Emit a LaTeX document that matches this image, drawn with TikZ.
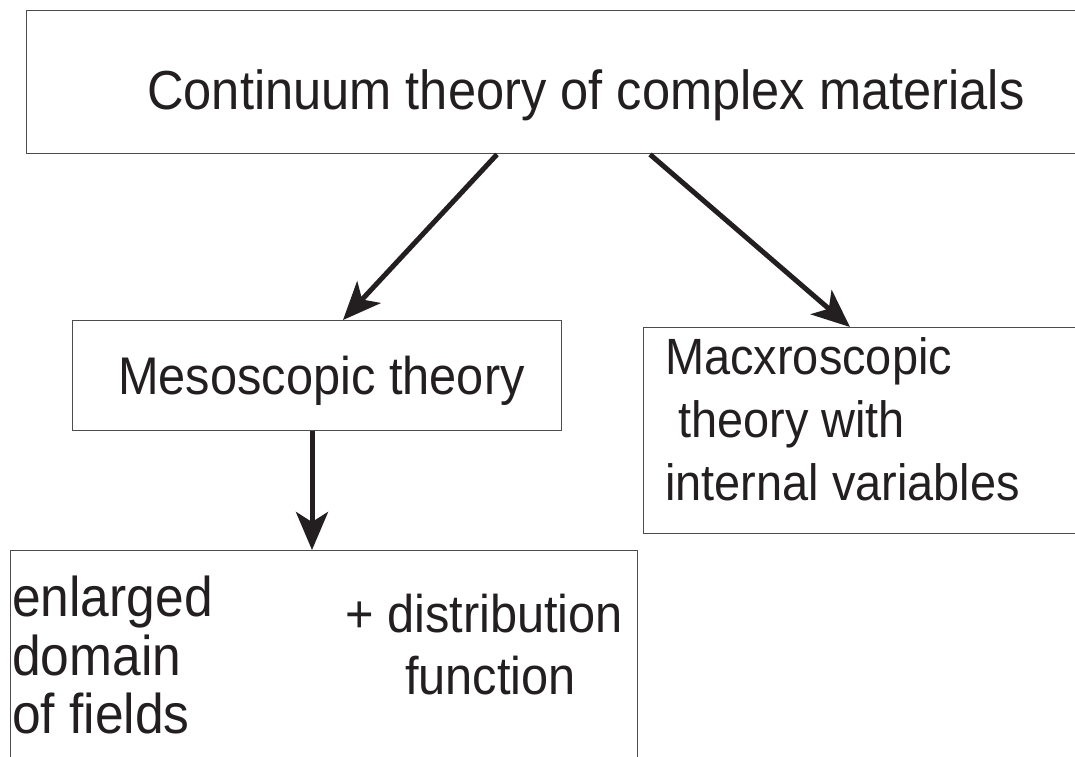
\documentclass[tikz,border=0pt]{standalone}
\usepackage{fontspec}
\setmainfont[FakeStretch=0.92]{Liberation Sans}
\usetikzlibrary{arrows.meta}
\definecolor{ink}{HTML}{231F20}
\begin{document}
\begin{tikzpicture}[x=1pt,y=-1pt,
  box/.style={draw=ink!80, line width=1.4pt, inner sep=0pt},
  arr/.style={draw=ink, line width=5pt, -{Stealth[length=38pt,width=32pt,inset=10pt]}},
  txt/.style={anchor=base west, inner sep=0pt, font=\fontsize{53}{60}\selectfont, text=ink}]
\useasboundingbox (0,0) rectangle (1075,756);
\clip (0,0) rectangle (1075,756);
\node[box, minimum width=1100pt, minimum height=143pt, anchor=north west] (top) at (26,10) {};
\node[box, minimum width=489pt, minimum height=110pt, anchor=north west] (meso) at (72,320) {};
\node[box, minimum width=500pt, minimum height=206pt, anchor=north west] (macro) at (643,327) {};
\node[box, minimum width=627pt, minimum height=250pt, anchor=north west] (bot) at (10,550) {};
\node[txt, font=\fontsize{55}{60}\selectfont] (t1) at (147,109) {Continuum theory of complex materials};
\node[txt] (t2) at (118,394) {Mesoscopic theory};
\node[txt, font=\fontsize{51}{60}\selectfont] (t3) at (665,374) {Macxroscopic};
\node[txt, font=\fontsize{51}{60}\selectfont] (t4) at (665,437) {\ theory with};
\node[txt, font=\fontsize{51}{60}\selectfont] (t5) at (665,500) {internal variables};
\node[txt, font=\fontsize{56}{60}\selectfont] (t6) at (12,616) {enlarged};
\node[txt, font=\fontsize{56}{60}\selectfont] (t7) at (12,675) {domain};
\node[txt, font=\fontsize{56}{60}\selectfont] (t8) at (12,733) {of fields};
\node[txt] (t9) at (345,632) {+ distribution};
\node[txt] (t10) at (405,694) {function};
\draw[arr] ([xshift=471pt]top.south west) -- ([xshift=271pt]meso.north west);
\draw[arr] ([xshift=624pt]top.south west) -- ([xshift=207pt]macro.north west);
\draw[arr] ([xshift=240pt]meso.south west) -- ([xshift=302pt]bot.north west);
\end{tikzpicture}
\end{document}
